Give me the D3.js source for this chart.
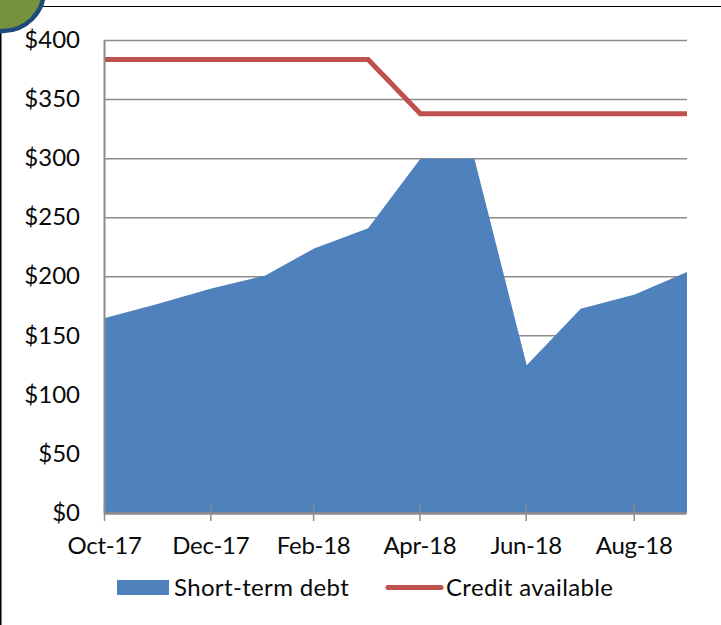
<!DOCTYPE html>
<html>
<head>
<meta charset="utf-8">
<script src="https://cdn.jsdelivr.net/npm/d3@7"></script>
<style>
  html, body { margin: 0; padding: 0; background: #fff; }
  svg { display: block; }
  text { font-family: Lato, "Open Sans", sans-serif; fill: #0a0a0a; }
</style>
</head>
<body>
<svg id="chart" width="721" height="625"></svg>
<script>
const months = ["2017-10-31", "2017-11-30", "2017-12-31", "2018-01-31", "2018-02-28", "2018-03-31",
  "2018-04-30", "2018-05-31", "2018-06-30", "2018-07-31", "2018-08-31", "2018-09-30"];
const debt = [165, 177, 190, 201, 224, 241, 300, 300, 125, 173, 185, 204];
const credit = [384, 384, 384, 384, 384, 384, 338, 338, 338, 338, 338, 338];
const xTickMonths = ["2017-10-31", "2017-12-31", "2018-02-28", "2018-04-30", "2018-06-30", "2018-08-31"];
const yTicks = [0, 50, 100, 150, 200, 250, 300, 350, 400];
const legendLabels = ["Short-term debt", "Credit available"];

const parse = d3.utcParse("%Y-%m-%d");
const dates = months.map(parse);

const x = d3.scaleUtc([dates[0], dates[dates.length - 1]], [105, 687]);
const y = d3.scaleLinear([0, 400], [513, 40.5]);

const svg = d3.select("#chart");
const axisColor = "#8c8c8c";

// Page frame and the corner badge
svg.append("path").attr("d", "M0.5,30V625").attr("stroke", "#000").attr("stroke-width", 2);
svg.append("path").attr("d", "M40,6.5H721").attr("stroke", "#000").attr("stroke-width", 1.2);
svg.append("circle").attr("cx", 3).attr("cy", -10).attr("r", 41)
  .attr("fill", "#76923c").attr("stroke", "#1f497d").attr("stroke-width", 4.5);

// Gridlines
svg.append("g").selectAll("line").data(yTicks.slice(1)).join("line")
  .attr("x1", 104).attr("x2", 687)
  .attr("y1", (d) => y(d)).attr("y2", (d) => y(d))
  .attr("stroke", axisColor).attr("stroke-width", 1.5);

// Area
const area = d3.area().x((d, i) => x(dates[i])).y0(y(0)).y1((d) => y(d));
svg.append("path").datum(debt).attr("d", area).attr("fill", "#4f81bd");

// Credit line
const line = d3.line().x((d, i) => x(dates[i])).y((d) => y(d));
svg.append("path").datum(credit).attr("d", line)
  .attr("fill", "none").attr("stroke", "#c0504d").attr("stroke-width", 5);

// Y axis
const yAxis = svg.append("g").attr("transform", "translate(104,-0.5)")
  .call(d3.axisLeft(y).tickValues(yTicks).tickSize(0).tickSizeOuter(0).tickPadding(24).tickFormat((d) => `$${d}`));
yAxis.select(".domain").attr("stroke", axisColor).attr("stroke-width", 2);
yAxis.selectAll("text").attr("font-size", 24).attr("dy", "0.32em")
  .style("font-family", "Lato").attr("fill", "#0a0a0a");

// X axis
const xAxis = svg.append("g").attr("transform", `translate(-1,${y(0)})`)
  .call(d3.axisBottom(x).tickValues(xTickMonths.map(parse)).tickSize(8).tickSizeOuter(0).tickPadding(16)
    .tickFormat(d3.utcFormat("%b-%y")));
xAxis.select(".domain").attr("stroke", axisColor).attr("stroke-width", 2.5);
xAxis.selectAll(".tick line").attr("y1", -8).attr("stroke", axisColor).attr("stroke-width", 1.5);
xAxis.selectAll("text").attr("font-size", 24).attr("letter-spacing", -0.3)
  .style("font-family", "Lato").attr("fill", "#0a0a0a");

// Legend
svg.append("rect").attr("x", 117).attr("y", 580).attr("width", 52).attr("height", 15).attr("fill", "#4f81bd");
svg.append("text").attr("x", 174).attr("y", 596).attr("font-size", 24).attr("letter-spacing", 0.35).text(legendLabels[0]);
svg.append("path").attr("d", "M388,587.5H441").attr("stroke", "#c0504d").attr("stroke-width", 5).attr("stroke-linecap", "round");
svg.append("text").attr("x", 446).attr("y", 596).attr("font-size", 24).attr("letter-spacing", 0.35).text(legendLabels[1]);
</script>
</body>
</html>
